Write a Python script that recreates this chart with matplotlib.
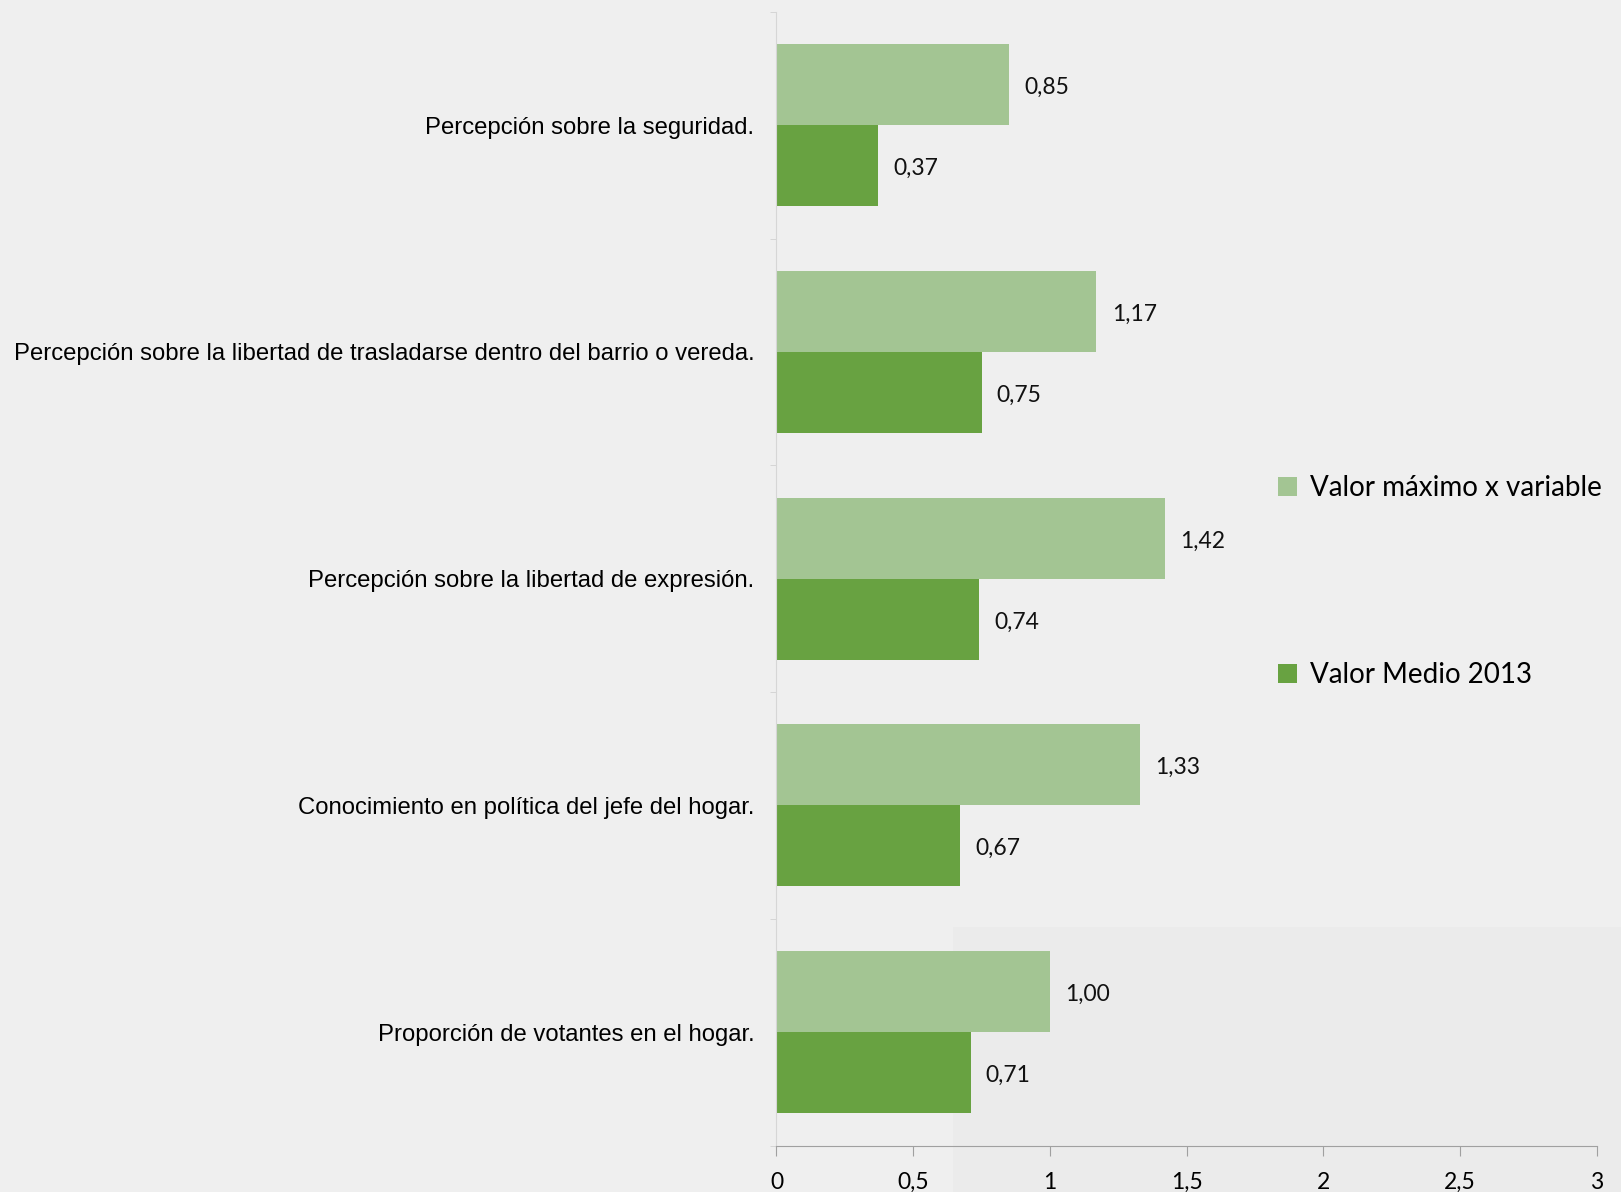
import matplotlib.pyplot as plt
import matplotlib.patches as mpatches
import numpy as np

# Datos
categorias = [
    "Percepción sobre la seguridad.",
    "Percepción sobre la libertad de trasladarse dentro del barrio o vereda.",
    "Percepción sobre la libertad de expresión.",
    "Conocimiento en política del jefe del hogar.",
    "Proporción de votantes en el hogar.",
]
valor_maximo = [0.85, 1.17, 1.42, 1.33, 1.00]
valor_medio = [0.37, 0.75, 0.74, 0.67, 0.71]
series = ["Valor máximo x variable", "Valor Medio 2013"]
xticks = [0, 0.5, 1, 1.5, 2, 2.5, 3]
xtick_labels = ["0", "0,5", "1", "1,5", "2", "2,5", "3"]

bg = "#efefef"
c_claro = "#a3c593"
c_oscuro = "#68a241"

fig = plt.figure(figsize=(16.21, 11.92), dpi=100, facecolor=bg)
# zona un poco mas oscura abajo a la derecha
fig.patches.append(mpatches.Rectangle((0.588, 0.0), 0.42, 0.222, transform=fig.transFigure,
                                      facecolor="#ebebeb", edgecolor="none", zorder=-1))
ax = fig.add_axes([0.479, 0.039, 0.506, 0.951])
ax.set_facecolor("none")

y = np.arange(len(categorias))
h = 0.357
b1 = ax.barh(y - h / 2, valor_maximo, height=h, color=c_claro, label=series[0])
b2 = ax.barh(y + h / 2, valor_medio, height=h, color=c_oscuro, label=series[1])

for bars, vals in [(b1, valor_maximo), (b2, valor_medio)]:
    for rect, v in zip(bars, vals):
        ax.annotate(f"{v:.2f}".replace(".", ","),
                    (rect.get_width(), rect.get_y() + rect.get_height() / 2),
                    xytext=(11, -2), textcoords="offset points", va="center", ha="left",
                    fontsize=16.5, family="Lato", color="#111111")

ax.set_xlim(0, 3)
ax.set_ylim(len(categorias) - 0.5, -0.5)
ax.set_yticks(y)
ax.set_yticklabels(categorias, fontsize=17.2, family="Liberation Sans")
ax.tick_params(axis="y", which="major", length=0, pad=16)
ax.set_yticks(np.arange(-0.5, len(categorias)), minor=True)
ax.tick_params(axis="y", which="minor", length=4, color="#d0d0d0", direction="out")

ax.set_xticks(xticks)
ax.set_xticklabels(xtick_labels, fontsize=16.5, family="Lato")
ax.tick_params(axis="x", length=7, color="#a0a0a0", pad=12)

for s in ["top", "right"]:
    ax.spines[s].set_visible(False)
ax.spines["left"].set_color("#d6d6d6")
ax.spines["bottom"].set_color("#a0a0a0")

leg = fig.legend(handles=[b1, b2], labels=series, loc="center left",
                 bbox_to_anchor=(0.773, 0.512), frameon=False,
                 prop={"family": "Lato", "size": 20}, labelspacing=5.8,
                 handlelength=0.7, handleheight=0.7, handletextpad=0.45)

plt.savefig("out.png", dpi=100, facecolor=bg)
